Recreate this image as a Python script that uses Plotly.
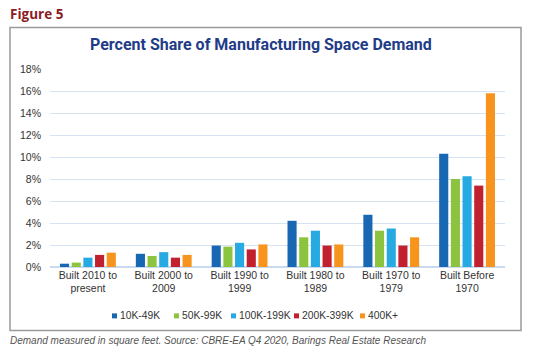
import plotly.graph_objects as go

categories = ["Built 2010 to<br>present", "Built 2000 to<br>2009", "Built 1990 to<br>1999",
              "Built 1980 to<br>1989", "Built 1970 to<br>1979", "Built Before<br>1970"]
series_names = ["10K-49K", "50K-99K", "100K-199K", "200K-399K", "400K+"]
s_10k_49k = [0.3, 1.2, 1.95, 4.2, 4.75, 10.3]
s_50k_99k = [0.4, 1.0, 1.85, 2.7, 3.3, 8.0]
s_100k_199k = [0.85, 1.35, 2.2, 3.3, 3.5, 8.25]
s_200k_399k = [1.1, 0.85, 1.6, 1.95, 1.95, 7.4]
s_400k_plus = [1.3, 1.1, 2.05, 2.05, 2.7, 15.8]
tick_vals = list(range(0, 19, 2))
tick_text = [f"{v}%" for v in tick_vals]

colors = ["#1767b2", "#8cc440", "#27aae1", "#c1212f", "#f7941e"]
all_series = [s_10k_49k, s_50k_99k, s_100k_199k, s_200k_399k, s_400k_plus]
legend_x = [112, 174, 231, 294, 360]  # pixel left of each legend square

W, H = 533, 356
PL, PR, PT, PB = 50, 505, 69, 266.7

fig = go.Figure()
for name, vals, c in zip(series_names, all_series, colors):
    fig.add_trace(go.Bar(x=categories, y=vals, name=name, marker_color=c,
                         marker_line_width=0, showlegend=False))

def px_x(x):
    return (x - PL) / (PR - PL)

def px_y(y):
    return (PB - y) / (PB - PT)

fig.add_shape(type="rect", xref="paper", yref="paper",
              x0=px_x(10), x1=px_x(521), y0=px_y(330), y1=px_y(27.5),
              line=dict(color="#9a9a9a", width=1.5), fillcolor="rgba(0,0,0,0)", layer="below")

# legend built from series names/colors
LY = 315
for name, c, lx in zip(series_names, colors, legend_x):
    fig.add_shape(type="rect", xref="paper", yref="paper",
                  x0=px_x(lx), x1=px_x(lx + 5), y0=px_y(LY + 3), y1=px_y(LY - 2),
                  line_width=0, fillcolor=c)
    fig.add_annotation(text=name, xref="paper", yref="paper", x=px_x(lx + 6), y=px_y(LY),
                       xanchor="left", yanchor="middle", showarrow=False,
                       font=dict(family="Liberation Sans", size=10.3, color="#333333"))

fig.add_annotation(text="<b>Figure 5</b>", xref="paper", yref="paper",
                   x=px_x(8), y=px_y(14), xanchor="left", yanchor="middle",
                   showarrow=False, font=dict(family="Open Sans", size=13.5, color="#8c1c24"))
fig.add_annotation(text="<b>Percent Share of Manufacturing Space Demand</b>", xref="paper", yref="paper",
                   x=px_x(261), y=px_y(45), xanchor="center", yanchor="middle",
                   showarrow=False,
                   font=dict(family="Roboto", size=16, color="#1f3c88"))
fig.add_annotation(text="<i>Demand measured in square feet. Source: CBRE-EA Q4 2020, Barings Real Estate Research</i>",
                   xref="paper", yref="paper", x=px_x(8), y=px_y(340), xanchor="left", yanchor="middle",
                   showarrow=False, font=dict(family="Liberation Sans", size=10, color="#555555"))

fig.update_layout(
    width=W, height=H,
    margin=dict(l=PL, r=W - PR, t=PT, b=H - PB),
    paper_bgcolor="white", plot_bgcolor="white",
    barmode="group", bargap=0.23, bargroupgap=0.22,
    font=dict(family="Liberation Sans", size=10, color="#333333"),
    showlegend=False,
    xaxis=dict(showgrid=False, showline=False, ticks="", automargin=False,
               tickfont=dict(size=10.5, color="#333333")),
    yaxis=dict(range=[0, 18], tickvals=tick_vals, ticktext=tick_text, showgrid=True,
               gridcolor="#d6e3f3", gridwidth=1, zeroline=True, zerolinecolor="#c9daf0",
               ticks="", ticklabelstandoff=8, automargin=False,
               tickfont=dict(size=10.5, color="#333333")),
)

fig.write_html("out.html", config={"displayModeBar": False},
               post_script="document.body.style.margin='0';")
